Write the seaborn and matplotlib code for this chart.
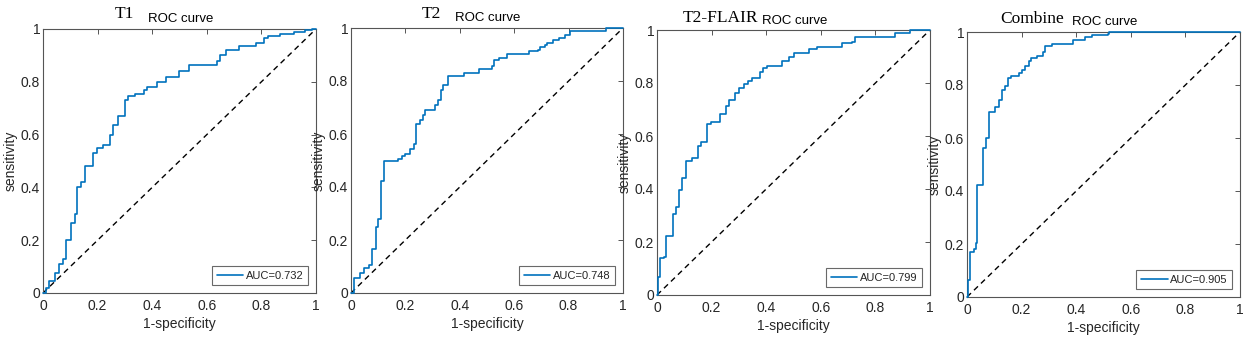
import pandas as pd
import seaborn as sns
import matplotlib.pyplot as plt

# ROC staircase points (fpr, tpr), one pair of lists per sequence
t1_fpr = [0, 0.012, 0.022, 0.043, 0.06, 0.073, 0.083, 0.104, 0.116, 0.125,
          0.14, 0.153, 0.183, 0.198, 0.22, 0.245, 0.257, 0.275, 0.302, 0.312,
          0.336, 0.37, 0.38, 0.418, 0.452, 0.498, 0.534, 0.638, 0.648, 0.67,
          0.717, 0.78, 0.81, 0.825, 0.868, 0.92, 0.96, 0.985, 1.0]
t1_tpr = [0, 0.02, 0.044, 0.076, 0.11, 0.13, 0.2, 0.266, 0.3, 0.4,
          0.42, 0.48, 0.53, 0.55, 0.56, 0.6, 0.635, 0.67, 0.73, 0.745,
          0.753, 0.77, 0.78, 0.8, 0.817, 0.84, 0.865, 0.88, 0.9, 0.92,
          0.937, 0.946, 0.965, 0.975, 0.98, 0.99, 0.996, 1.0, 1.0]

t2_fpr = [0, 0.01, 0.034, 0.046, 0.068, 0.078, 0.092, 0.10, 0.112, 0.122,
          0.171, 0.187, 0.2, 0.218, 0.23, 0.24, 0.254, 0.264, 0.273, 0.309,
          0.321, 0.33, 0.34, 0.355, 0.416, 0.472, 0.517, 0.526, 0.545, 0.572,
          0.655, 0.688, 0.694, 0.713, 0.721, 0.743, 0.765, 0.786, 0.805, 0.936, 1.0]
t2_tpr = [0, 0.057, 0.075, 0.094, 0.104, 0.167, 0.249, 0.278, 0.423, 0.498,
          0.505, 0.516, 0.526, 0.545, 0.561, 0.636, 0.654, 0.67, 0.69, 0.708,
          0.73, 0.765, 0.784, 0.818, 0.83, 0.847, 0.857, 0.88, 0.888, 0.903,
          0.912, 0.916, 0.93, 0.935, 0.945, 0.954, 0.964, 0.975, 0.99, 1.0, 1.0]

flair_fpr = [0, 0.004, 0.012, 0.024, 0.034, 0.059, 0.071, 0.08, 0.093, 0.105,
             0.128, 0.149, 0.161, 0.183, 0.198, 0.229, 0.254, 0.263, 0.287, 0.299,
             0.317, 0.332, 0.348, 0.378, 0.39, 0.402, 0.457, 0.482, 0.5, 0.555,
             0.585, 0.677, 0.713, 0.726, 0.805, 0.872, 0.927, 1.0]
flair_tpr = [0, 0.067, 0.138, 0.145, 0.223, 0.304, 0.333, 0.396, 0.44, 0.507,
             0.516, 0.563, 0.579, 0.644, 0.654, 0.682, 0.713, 0.736, 0.761, 0.78,
             0.795, 0.808, 0.818, 0.843, 0.855, 0.864, 0.883, 0.899, 0.912, 0.928,
             0.937, 0.95, 0.956, 0.972, 0.975, 0.99, 1.0, 1.0]

comb_fpr = [0, 0.003, 0.012, 0.024, 0.034, 0.036, 0.057, 0.071, 0.079, 0.104,
            0.116, 0.128, 0.14, 0.152, 0.162, 0.189, 0.201, 0.213, 0.226, 0.235,
            0.256, 0.28, 0.287, 0.311, 0.39, 0.433, 0.457, 0.518, 0.52, 1.0]
comb_tpr = [0, 0.063, 0.168, 0.183, 0.202, 0.422, 0.561, 0.599, 0.697, 0.716,
            0.744, 0.782, 0.797, 0.826, 0.835, 0.847, 0.857, 0.873, 0.89, 0.902,
            0.908, 0.923, 0.946, 0.956, 0.971, 0.981, 0.99, 0.994, 1.0, 1.0]

names = ["T1", "T2", "T2-FLAIR", "Combine"]
aucs = [0.732, 0.748, 0.799, 0.905]
chance = [0, 1]
ticks = [0, 0.2, 0.4, 0.6, 0.8, 1]
tick_labels = ["0", "0.2", "0.4", "0.6", "0.8", "1"]

curves = [(t1_fpr, t1_tpr), (t2_fpr, t2_tpr), (flair_fpr, flair_tpr), (comb_fpr, comb_tpr)]

sns.set_theme(style="white")
plt.rcParams['font.family'] = ['Liberation Sans', 'DejaVu Sans']

W, H = 1248, 343
fig = plt.figure(figsize=(W / 100, H / 100), dpi=100)

# axes boxes in pixels: left, top, right, bottom
boxes = [(43, 29, 316, 293), (351, 28, 623, 293), (657, 30, 930, 295), (967, 32, 1240, 297)]
# title layout: name start (axes frac), name baseline px above, roc start, roc baseline px above
title_pos = [(0.264, 11, 0.385, 7), (0.261, 10, 0.382, 7),
             (0.095, 8, 0.385, 6), (0.121, 9, 0.385, 7)]

blue = "#0072BD"
for i, (fpr, tpr) in enumerate(curves):
    l, t, r, b = boxes[i]
    ax = fig.add_axes([l / W, (H - b) / H, (r - l) / W, (b - t) / H])
    df = pd.DataFrame({"fpr": fpr, "tpr": tpr})
    sns.lineplot(data=df, x="fpr", y="tpr", ax=ax, color=blue, lw=1.2,
                 drawstyle="steps-post", sort=False, estimator=None,
                 label="AUC=%.3f" % aucs[i], clip_on=False, zorder=5)
    sns.lineplot(x=chance, y=chance, ax=ax, color="black", lw=1.0,
                 linestyle=(0, (4, 3)), estimator=None)
    ax.set_xlim(0, 1)
    ax.set_ylim(0, 1)
    ax.set_xticks(ticks)
    ax.set_xticklabels(tick_labels)
    ax.set_yticks(ticks)
    ax.set_yticklabels(tick_labels)
    ax.tick_params(direction="in", top=True, right=True, length=3.5, width=0.7,
                   colors="#555555", labelcolor="#262626", labelsize=10)
    ax.tick_params(axis="x", pad=4)
    ax.tick_params(axis="y", pad=2)
    for s in ax.spines.values():
        s.set_color("#555555")
        s.set_linewidth(0.8)
    ax.set_xlabel("1-specificity", fontsize=10, color="#262626", labelpad=3)
    ax.set_ylabel("sensitivity", fontsize=10, color="#262626", labelpad=2)

    hp = b - t
    nx, ny, rx, ry = title_pos[i]
    ax.text(nx, 1 + ny / hp, names[i], transform=ax.transAxes, fontsize=12.5,
            family=["Liberation Serif", "DejaVu Serif"], va="baseline", ha="left", color="black")
    ax.text(rx, 1 + ry / hp, "ROC curve", transform=ax.transAxes, fontsize=9.5,
            va="baseline", ha="left", color="black")

    leg = ax.legend(loc="lower right", fontsize=8, frameon=True, fancybox=False,
                    handlelength=2.4, handletextpad=0.25, borderpad=0.4,
                    borderaxespad=0.7)
    leg.get_frame().set_edgecolor("#444444")
    leg.get_frame().set_linewidth(0.8)

fig.savefig("out.png", dpi=100)
